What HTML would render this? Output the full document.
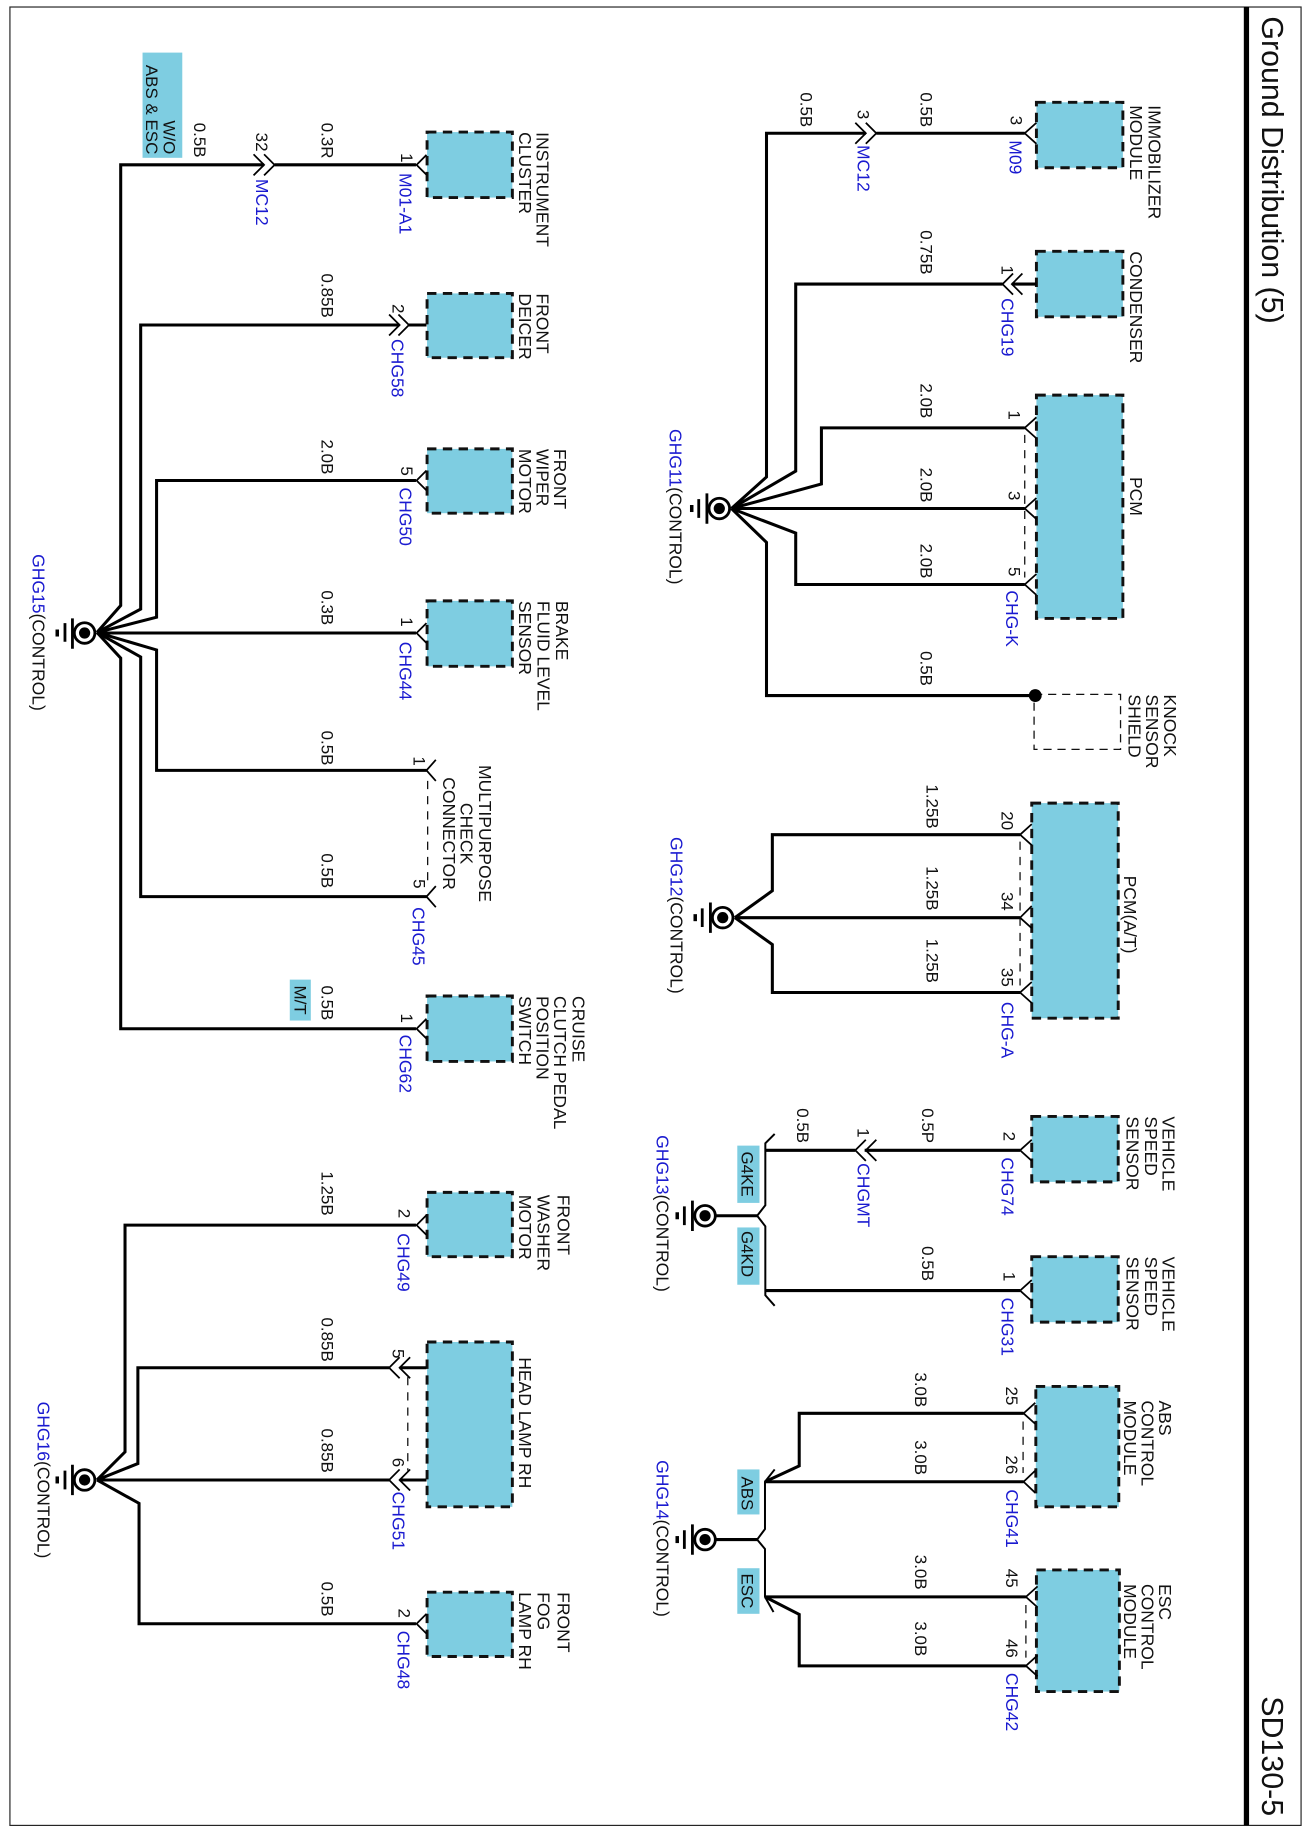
<!DOCTYPE html>
<html><head><meta charset="utf-8"><title>Ground Distribution (5)</title>
<style>
html,body{margin:0;padding:0;background:#fff}
svg{display:block}
text{font-family:"Liberation Sans",Arial,sans-serif;font-size:15px;fill:#111}
.b,.b tspan{fill:#1a1ad0}
.s{font-size:14.5px}
.w{fill:none;stroke:#000;stroke-width:2.6;stroke-linejoin:miter}
.c{fill:none;stroke:#000;stroke-width:1.5}
.d{fill:none;stroke:#111;stroke-width:1.1;stroke-dasharray:7 6}
.box{fill:#7ecde1;stroke:#111;stroke-width:2.5;stroke-dasharray:8 5.5}
.tag{fill:#7ecde1}
.g{fill:none;stroke:#000}
</style></head><body>
<svg xmlns="http://www.w3.org/2000/svg" width="1311" height="1833" viewBox="0 0 1122 1568" preserveAspectRatio="none">
<rect width="1122" height="1568" fill="#fff"/>
<rect x="8.5" y="6" width="1105" height="1555.5" fill="none" stroke="#222" stroke-width="1"/>
<rect x="1064.5" y="6" width="4.5" height="1555.5" fill="#000"/>
<text style="font-size:26px" transform="translate(1080,14) rotate(90)">Ground Distribution (5)</text>
<text style="font-size:26px" transform="translate(1080,1451) rotate(90)">SD130-5</text>

<!-- boxes right -->
<rect class="box" x="887" y="87.5" width="74" height="56"/>
<rect class="box" x="887" y="215" width="74" height="56"/>
<rect class="box" x="887" y="338" width="74" height="191"/>
<rect x="885" y="594" width="74" height="47" fill="none" stroke="#111" stroke-width="1.1" stroke-dasharray="7 5"/>
<rect class="box" x="883" y="687" width="74" height="184"/>
<rect class="box" x="883" y="955" width="74" height="56"/>
<rect class="box" x="883" y="1075" width="74" height="56"/>
<rect class="box" x="886.5" y="1186" width="71" height="103"/>
<rect class="box" x="887" y="1343" width="71" height="104"/>
<!-- boxes left -->
<rect class="box" x="365.5" y="113" width="73" height="56"/>
<rect class="box" x="365.5" y="251" width="73" height="55"/>
<rect class="box" x="365.5" y="384" width="73" height="55"/>
<rect class="box" x="365.5" y="514" width="73" height="56"/>
<rect class="box" x="365.5" y="852" width="73" height="56"/>
<rect class="box" x="365.5" y="1020" width="73" height="55"/>
<rect class="box" x="365.5" y="1148" width="73" height="141"/>
<rect class="box" x="365.5" y="1362" width="73" height="55"/>

<!-- tags -->
<rect class="tag" x="122" y="45" width="34" height="90"/>
<rect class="tag" x="248" y="838" width="18" height="35"/>
<rect class="tag" x="631" y="980" width="19" height="49"/>
<rect class="tag" x="631" y="1050" width="19" height="49"/>
<rect class="tag" x="631" y="1257" width="19" height="38.5"/>
<rect class="tag" x="631" y="1341.5" width="19" height="39"/>

<!-- GHG11 wires -->
<path class="w" d="M741,114H656V408L626,435"/>
<path class="w" d="M750,114H877"/>
<path class="w" d="M858,243H681V403L626,435"/>
<path class="w" d="M866,243H887"/>
<path class="w" d="M877,366H703V414L626,435"/>
<path class="w" d="M626,435H877"/>
<path class="w" d="M626,435L681,456V500H877"/>
<path class="w" d="M626,435L656,464V595H886"/>
<circle cx="886" cy="595" r="5.5" fill="#000"/>
<path class="d" d="M877,372V494"/>
<!-- GHG12 wires -->
<path class="w" d="M873,714H661V762L629,785"/>
<path class="w" d="M629,785H873"/>
<path class="w" d="M629,785L661,808V849H873"/>
<path class="d" d="M873,720V843"/>
<!-- GHG13 wires -->
<path class="w" d="M613,1040H648"/>
<path class="c" d="M663,970L655,978V1031L648,1040L655,1049V1108L663,1117" style="stroke-width:1.7"/>
<path class="w" d="M655,984H732"/>
<path class="w" d="M740,984H873"/>
<path class="w" d="M655,1104H873"/>
<!-- GHG14 wires -->
<path class="w" d="M613,1317H648"/>
<path class="c" d="M663,1257L654.7,1267.5V1308L648,1317L654.7,1325V1366L662,1379" style="stroke-width:1.7"/>
<path class="w" d="M654.7,1267.5H876"/>
<path class="w" d="M654.7,1267.5L684,1254V1209H876"/>
<path class="w" d="M654.7,1366H878"/>
<path class="w" d="M654.7,1366L684,1381V1425H878"/>
<path class="d" d="M875.6,1216V1260"/>
<path class="d" d="M878,1373V1418"/>
<!-- GHG15 wires -->
<path class="w" d="M226,141H103.3V518L83,541"/>
<path class="w" d="M235,141H356"/>
<path class="w" d="M342,278H120.4V521L83,541"/>
<path class="w" d="M350,278H365"/>
<path class="w" d="M356,411H134V528L83,541"/>
<path class="w" d="M83,541.5H356"/>
<path class="w" d="M83,541L134,556V659H365"/>
<path class="w" d="M83,541L120.4,562V767H365"/>
<path class="w" d="M83,541L103.3,563V880H356"/>
<path class="d" d="M366,668V758"/>
<!-- GHG16 wires -->
<path class="w" d="M356,1048H107V1242L83,1266"/>
<path class="w" d="M333,1170H118V1252L83,1266"/>
<path class="w" d="M342,1170H365"/>
<path class="w" d="M83,1266H333"/>
<path class="w" d="M342,1266H365"/>
<path class="w" d="M83,1266L119,1286V1389H356"/>
<path class="d" d="M349,1178V1258"/>

<!-- connector chevrons -->
<path class="c" d="M887,105L877,114L887,123M732,105L741,114L732,123M741,105L750,114L741,123"/>
<path class="c" d="M867,234L858,243L867,252M875,234L866,243L875,252"/>
<path class="c" d="M887,357L877,366L887,375M887,426L877,435L887,444M887,491L877,500L887,509"/>
<path class="c" d="M883,705L873,714L883,723M883,775L873,785L883,794M883,840L873,849L883,858"/>
<path class="c" d="M883,975L873,984L883,993M883,1095L873,1104L883,1113"/>
<path class="c" d="M741,975L732,984L741,993M750,975L741,984L750,993"/>
<path class="c" d="M886,1200L876,1209L886,1218M886,1258L876,1267.5L886,1277M888,1357L878,1366L888,1375M888,1416L878,1425L888,1434"/>
<path class="c" d="M365,132.5L356.5,141L365,149.5M217,132L226,141L217,150M226,132L235,141L226,150"/>
<path class="c" d="M333,269L342,278L333,287M341,269L350,278L341,287"/>
<path class="c" d="M365,402.5L356.5,411L365,419.5M365,533L356.5,541.5L365,550M365,871.5L356.5,880L365,888.5"/>
<path class="c" d="M373,650L365,659L373,668M373,758L365,767L373,776"/>
<path class="c" d="M365,1039.5L356.5,1048L365,1056.5M365,1380.5L356.5,1389L365,1397.5"/>
<path class="c" d="M342,1161L333,1170L342,1179M351,1161L342,1170L351,1179M342,1257L333,1266L342,1275M351,1257L342,1266L351,1275"/>

<!-- grounds -->
<g>
<circle class="g" cx="615.6" cy="435" r="8.8" stroke-width="2.4"/><circle cx="615.6" cy="435" r="4.8" fill="#000"/>
<path class="g" stroke-width="2.4" d="M605,422V448M598,427V443"/><path class="g" stroke-width="3" d="M592,432V438"/>
</g>
<g>
<circle class="g" cx="618.5" cy="785" r="8.8" stroke-width="2.4"/><circle cx="618.5" cy="785" r="4.8" fill="#000"/>
<path class="g" stroke-width="2.4" d="M608,772V798M601,777V793"/><path class="g" stroke-width="3" d="M595,782V788"/>
</g>
<g>
<circle class="g" cx="603.4" cy="1040" r="8.8" stroke-width="2.4"/><circle cx="603.4" cy="1040" r="4.8" fill="#000"/>
<path class="g" stroke-width="2.4" d="M592.6,1027V1053M585.7,1032V1048"/><path class="g" stroke-width="3" d="M579.6,1037V1043"/>
</g>
<g>
<circle class="g" cx="603.4" cy="1317" r="8.8" stroke-width="2.4"/><circle cx="603.4" cy="1317" r="4.8" fill="#000"/>
<path class="g" stroke-width="2.4" d="M592.6,1304V1330M585.7,1309V1325"/><path class="g" stroke-width="3" d="M579.6,1314V1320"/>
</g>
<g>
<circle class="g" cx="72.4" cy="541.5" r="8.8" stroke-width="2.4"/><circle cx="72.4" cy="541.5" r="4.8" fill="#000"/>
<path class="g" stroke-width="2.4" d="M62,529V555M55.6,533V549"/><path class="g" stroke-width="3" d="M49,538.5V544.5"/>
</g>
<g>
<circle class="g" cx="72.4" cy="1266" r="8.8" stroke-width="2.4"/><circle cx="72.4" cy="1266" r="4.8" fill="#000"/>
<path class="g" stroke-width="2.4" d="M62,1253V1279M55.6,1258V1274"/><path class="g" stroke-width="3" d="M49,1263V1269"/>
</g>

<!-- tag text -->
<text class="s" text-anchor="end" transform="translate(140,132) rotate(90)">W/O</text>
<text class="s" text-anchor="end" transform="translate(125,132) rotate(90)">ABS &amp; ESC</text>
<text class="s" transform="translate(252,843) rotate(90)">M/T</text>
<text class="s" transform="translate(634.4,985) rotate(90)">G4KE</text>
<text class="s" transform="translate(634.4,1053) rotate(90)">G4KD</text>
<text class="s" transform="translate(634.4,1263) rotate(90)">ABS</text>
<text class="s" transform="translate(634.4,1346) rotate(90)">ESC</text>

<g transform="translate(1,0)">
<!-- ground labels -->
<text transform="translate(572,367) rotate(90)"><tspan class="b">GHG11</tspan>(CONTROL)</text>
<text transform="translate(573,716) rotate(90)"><tspan class="b">GHG12</tspan>(CONTROL)</text>
<text transform="translate(561,971) rotate(90)"><tspan class="b">GHG13</tspan>(CONTROL)</text>
<text transform="translate(561,1249) rotate(90)"><tspan class="b">GHG14</tspan>(CONTROL)</text>
<text transform="translate(27,474) rotate(90)"><tspan class="b">GHG15</tspan>(CONTROL)</text>
<text transform="translate(31,1199) rotate(90)"><tspan class="b">GHG16</tspan>(CONTROL)</text>

<!-- component names right -->
<text transform="translate(982,90) rotate(90)">IMMOBILIZER</text>
<text transform="translate(966,90) rotate(90)">MODULE</text>
<text transform="translate(966,215) rotate(90)">CONDENSER</text>
<text transform="translate(966,408) rotate(90)">PCM</text>
<text transform="translate(995,594) rotate(90)">KNOCK</text>
<text transform="translate(980,594) rotate(90)">SENSOR</text>
<text transform="translate(965,594) rotate(90)">SHIELD</text>
<text transform="translate(961,749) rotate(90)">PCM(A/T)</text>
<text transform="translate(994,955) rotate(90)">VEHICLE</text>
<text transform="translate(979,955) rotate(90)">SPEED</text>
<text transform="translate(963,955) rotate(90)">SENSOR</text>
<text transform="translate(994,1075) rotate(90)">VEHICLE</text>
<text transform="translate(979,1075) rotate(90)">SPEED</text>
<text transform="translate(963,1075) rotate(90)">SENSOR</text>
<text transform="translate(991,1198) rotate(90)">ABS</text>
<text transform="translate(976,1198) rotate(90)">CONTROL</text>
<text transform="translate(961,1198) rotate(90)">MODULE</text>
<text transform="translate(991,1355) rotate(90)">ESC</text>
<text transform="translate(976,1355) rotate(90)">CONTROL</text>
<text transform="translate(961,1355) rotate(90)">MODULE</text>
<!-- component names left -->
<text transform="translate(458,113) rotate(90)">INSTRUMENT</text>
<text transform="translate(443,113) rotate(90)">CLUSTER</text>
<text transform="translate(458,251) rotate(90)">FRONT</text>
<text transform="translate(443,251) rotate(90)">DEICER</text>
<text transform="translate(473,384) rotate(90)">FRONT</text>
<text transform="translate(458,384) rotate(90)">WIPER</text>
<text transform="translate(443,384) rotate(90)">MOTOR</text>
<text transform="translate(475,514) rotate(90)">BRAKE</text>
<text transform="translate(459,514) rotate(90)">FLUID LEVEL</text>
<text transform="translate(443,514) rotate(90)">SENSOR</text>
<text text-anchor="middle" transform="translate(409,713) rotate(90)">MULTIPURPOSE</text>
<text text-anchor="middle" transform="translate(393,713) rotate(90)">CHECK</text>
<text text-anchor="middle" transform="translate(378,713) rotate(90)">CONNECTOR</text>
<text transform="translate(489,852) rotate(90)">CRUISE</text>
<text transform="translate(473,852) rotate(90)">CLUTCH PEDAL</text>
<text transform="translate(458,852) rotate(90)">POSITION</text>
<text transform="translate(443,852) rotate(90)">SWITCH</text>
<text transform="translate(476,1022) rotate(90)">FRONT</text>
<text transform="translate(459,1022) rotate(90)">WASHER</text>
<text transform="translate(443,1022) rotate(90)">MOTOR</text>
<text transform="translate(443,1161) rotate(90)">HEAD LAMP RH</text>
<text transform="translate(476,1362) rotate(90)">FRONT</text>
<text transform="translate(459,1362) rotate(90)">FOG</text>
<text transform="translate(443,1362) rotate(90)">LAMP RH</text>

<!-- wire sizes right -->
<text class="s" transform="translate(787,79) rotate(90)">0.5B</text>
<text class="s" transform="translate(684,79) rotate(90)">0.5B</text>
<text class="s" transform="translate(787,197) rotate(90)">0.75B</text>
<text class="s" transform="translate(787,328) rotate(90)">2.0B</text>
<text class="s" transform="translate(787,400) rotate(90)">2.0B</text>
<text class="s" transform="translate(787,465) rotate(90)">2.0B</text>
<text class="s" transform="translate(787,557) rotate(90)">0.5B</text>
<text class="s" transform="translate(792,671) rotate(90)">1.25B</text>
<text class="s" transform="translate(792,741) rotate(90)">1.25B</text>
<text class="s" transform="translate(792,803) rotate(90)">1.25B</text>
<text class="s" transform="translate(788,948) rotate(90)">0.5P</text>
<text class="s" transform="translate(681,948) rotate(90)">0.5B</text>
<text class="s" transform="translate(788,1066) rotate(90)">0.5B</text>
<text class="s" transform="translate(782,1174) rotate(90)">3.0B</text>
<text class="s" transform="translate(782,1232) rotate(90)">3.0B</text>
<text class="s" transform="translate(782,1330) rotate(90)">3.0B</text>
<text class="s" transform="translate(782,1387) rotate(90)">3.0B</text>
<!-- wire sizes left -->
<text class="s" transform="translate(165,105) rotate(90)">0.5B</text>
<text class="s" transform="translate(274,105) rotate(90)">0.3R</text>
<text class="s" transform="translate(274,234) rotate(90)">0.85B</text>
<text class="s" transform="translate(274,376) rotate(90)">2.0B</text>
<text class="s" transform="translate(274,505) rotate(90)">0.3B</text>
<text class="s" transform="translate(274,625) rotate(90)">0.5B</text>
<text class="s" transform="translate(274,730) rotate(90)">0.5B</text>
<text class="s" transform="translate(274,843) rotate(90)">0.5B</text>
<text class="s" transform="translate(274,1002) rotate(90)">1.25B</text>
<text class="s" transform="translate(274,1127) rotate(90)">0.85B</text>
<text class="s" transform="translate(274,1222) rotate(90)">0.85B</text>
<text class="s" transform="translate(274,1353) rotate(90)">0.5B</text>

<!-- pins right -->
<text class="s" transform="translate(864,99) rotate(90)">3</text>
<text class="s" transform="translate(733,94) rotate(90)">3</text>
<text class="s" transform="translate(856,227) rotate(90)">1</text>
<text class="s" transform="translate(862,351) rotate(90)">1</text>
<text class="s" transform="translate(862,420) rotate(90)">3</text>
<text class="s" transform="translate(862,485) rotate(90)">5</text>
<text class="s" transform="translate(856,694) rotate(90)">20</text>
<text class="s" transform="translate(856,763) rotate(90)">34</text>
<text class="s" transform="translate(856,828) rotate(90)">35</text>
<text class="s" transform="translate(858,968) rotate(90)">2</text>
<text class="s" transform="translate(858,1088) rotate(90)">1</text>
<text class="s" transform="translate(733,965) rotate(90)">1</text>
<text class="s" transform="translate(860,1186) rotate(90)">25</text>
<text class="s" transform="translate(860,1245) rotate(90)">26</text>
<text class="s" transform="translate(860,1342) rotate(90)">45</text>
<text class="s" transform="translate(860,1402) rotate(90)">46</text>
<!-- pins left -->
<text class="s" transform="translate(342,131) rotate(90)">1</text>
<text class="s" transform="translate(218,113.5) rotate(90)">32</text>
<text class="s" transform="translate(335,260) rotate(90)">2</text>
<text class="s" transform="translate(342,399) rotate(90)">5</text>
<text class="s" transform="translate(342,528) rotate(90)">1</text>
<text class="s" transform="translate(353,647) rotate(90)">1</text>
<text class="s" transform="translate(353,752) rotate(90)">5</text>
<text class="s" transform="translate(342,867) rotate(90)">1</text>
<text class="s" transform="translate(340,1034) rotate(90)">2</text>
<text class="s" transform="translate(335,1154) rotate(90)">5</text>
<text class="s" transform="translate(335,1247) rotate(90)">6</text>
<text class="s" transform="translate(340,1376) rotate(90)">2</text>

<!-- connector IDs -->
<text class="b" transform="translate(863,120) rotate(90)">M09</text>
<text class="b" transform="translate(733,124) rotate(90)">MC12</text>
<text class="b" transform="translate(856,255) rotate(90)">CHG19</text>
<text class="b" transform="translate(860,505) rotate(90)">CHG-K</text>
<text class="b" transform="translate(856,857) rotate(90)">CHG-A</text>
<text class="b" transform="translate(856,990) rotate(90)">CHG74</text>
<text class="b" transform="translate(733,995) rotate(90)">CHGMT</text>
<text class="b" transform="translate(856,1110) rotate(90)">CHG31</text>
<text class="b" transform="translate(860,1274) rotate(90)">CHG41</text>
<text class="b" transform="translate(860,1431) rotate(90)">CHG42</text>
<text class="b" transform="translate(341,148) rotate(90)">M01-A1</text>
<text class="b" transform="translate(218,153) rotate(90)">MC12</text>
<text class="b" transform="translate(334,290) rotate(90)">CHG58</text>
<text class="b" transform="translate(341,417) rotate(90)">CHG50</text>
<text class="b" transform="translate(341,549) rotate(90)">CHG44</text>
<text class="b" transform="translate(352,776) rotate(90)">CHG45</text>
<text class="b" transform="translate(341,885) rotate(90)">CHG62</text>
<text class="b" transform="translate(339,1055) rotate(90)">CHG49</text>
<text class="b" transform="translate(335,1276) rotate(90)">CHG51</text>
<text class="b" transform="translate(339,1395) rotate(90)">CHG48</text>
</g>
</svg>
</body></html>
